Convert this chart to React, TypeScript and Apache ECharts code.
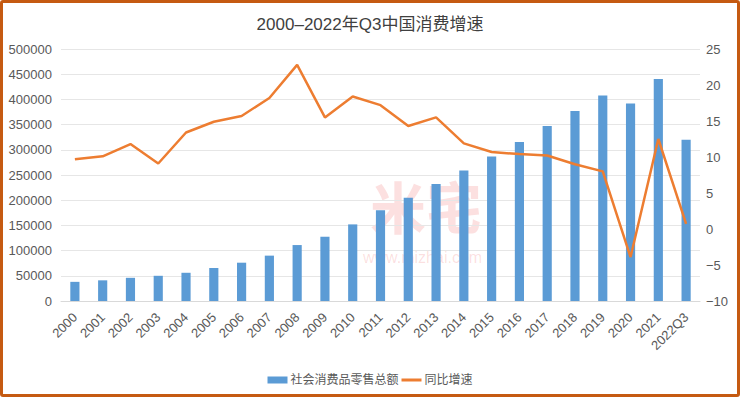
import React, { useEffect, useRef } from "react";
import * as echarts from "echarts";

const categories = ["2000","2001","2002","2003","2004","2005","2006","2007","2008","2009","2010","2011","2012","2013","2014","2015","2016","2017","2018","2019","2020","2021","2022Q3"];
const retailSales = [38000,41000,46000,50000,56000,65500,76000,90000,111000,127500,152000,180000,205000,232000,259000,286500,315500,347000,377000,407500,392000,440500,320000];
const growthRate = [9.7,10.1,11.8,9.1,13.4,14.9,15.7,18.2,22.8,15.5,18.4,17.2,14.3,15.5,11.9,10.7,10.4,10.2,9.0,8.0,-3.9,12.5,0.7];
const titleText = "2000–2022年Q3中国消费增速";
const seriesNames = ["社会消费品零售总额", "同比增速"];

const FONT = "'Liberation Sans', 'Noto Sans CJK SC', sans-serif";

export default function App() {
  const ref = useRef<HTMLDivElement>(null);
  useEffect(() => {
    if (!ref.current) return;
    const chart = echarts.init(ref.current, undefined, { renderer: "svg" });
    chart.setOption({
      animation: false,
      backgroundColor: "#ffffff",
      textStyle: { fontFamily: FONT },
      title: {
        text: titleText,
        left: "center",
        top: 11,
        textStyle: { fontSize: 17, fontWeight: "normal", color: "#404040", fontFamily: FONT },
      },
      graphic: [
        {
          type: "text",
          left: 370,
          top: 176,
          silent: true,
          style: { text: "米宅", fontSize: 56, lineHeight: 56, fontWeight: "bold", fill: "rgba(235,60,60,0.16)", fontFamily: "'Noto Sans CJK SC', sans-serif" },
        },
        {
          type: "text",
          left: 363,
          top: 249,
          silent: true,
          style: { text: "www.mizhai.com", fontSize: 16, lineHeight: 16, fill: "rgba(235,60,60,0.16)", fontFamily: FONT },
        },
      ],
      legend: {
        top: 369,
        left: "center",
        itemGap: 3,
        itemWidth: 20,
        itemHeight: 7,
        textStyle: { fontSize: 12, color: "#595959", fontFamily: FONT, padding: [0, 0, 0, -2] },
        data: [
          { name: seriesNames[0], icon: "rect" },
          { name: seriesNames[1], icon: "path://M0,0 H20 V3 H0 Z" },
        ],
      },
      grid: { left: 61, right: 40, top: 49, height: 252, containLabel: false },
      xAxis: {
        type: "category",
        data: categories,
        axisTick: { show: false },
        axisLine: { lineStyle: { color: "#d9d9d9" } },
        axisLabel: { rotate: 45, fontSize: 13, color: "#595959", margin: 14, interval: 0, fontFamily: FONT },
      },
      yAxis: [
        {
          type: "value",
          min: 0,
          max: 500000,
          interval: 50000,
          axisLine: { show: false },
          axisTick: { show: false },
          splitLine: { lineStyle: { color: "#e6e6e6" } },
          axisLabel: { fontSize: 13, color: "#595959", margin: 9, fontFamily: FONT, formatter: (v: number) => String(v) },
        },
        {
          type: "value",
          min: -10,
          max: 25,
          interval: 5,
          axisLine: { show: false },
          axisTick: { show: false },
          splitLine: { show: false },
          axisLabel: { fontSize: 13, color: "#595959", margin: 6, fontFamily: FONT, formatter: (v: number) => String(v).replace("-", "−") },
        },
      ],
      series: [
        {
          name: seriesNames[0],
          type: "bar",
          data: retailSales,
          barWidth: "33%",
          itemStyle: { color: "#5b9bd5" },
        },
        {
          name: seriesNames[1],
          type: "line",
          yAxisIndex: 1,
          data: growthRate,
          symbol: "none",
          lineStyle: { color: "#ed7d31", width: 2.5 },
          itemStyle: { color: "#ed7d31" },
        },
      ],
    });
    return () => chart.dispose();
  }, []);
  return (
    <div style={{ position: "absolute", left: 0, top: 0, width: 740, height: 397 }}>
      <div ref={ref} style={{ width: 740, height: 397 }} />
      <div
        style={{
          position: "absolute",
          left: 0,
          top: 0,
          width: 740,
          height: 397,
          boxSizing: "border-box",
          border: "3px solid #c55a11",
          borderRadius: 3,
          pointerEvents: "none",
        }}
      />
    </div>
  );
}
